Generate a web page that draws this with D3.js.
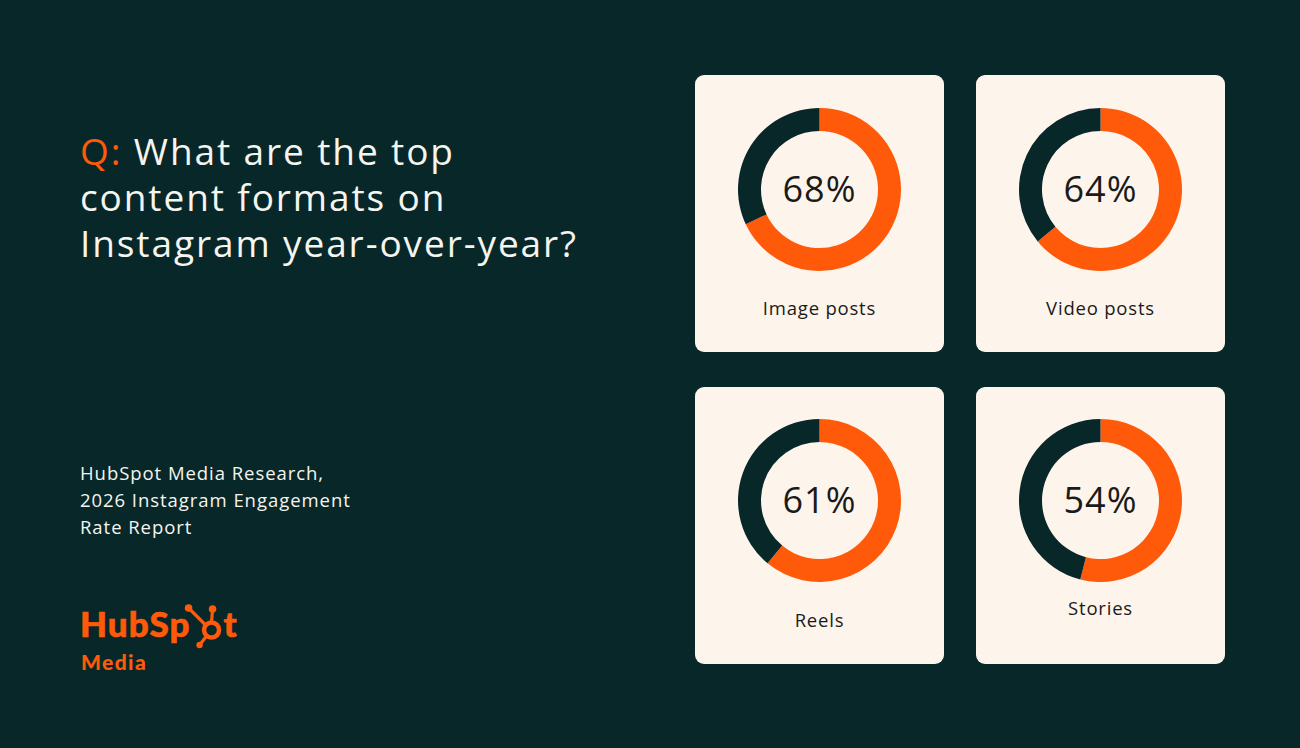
<!DOCTYPE html>
<html>
<head>
<meta charset="utf-8">
<script src="https://cdn.jsdelivr.net/npm/d3@7"></script>
<style>
  html, body { margin: 0; padding: 0; background: #072729; }
  svg { display: block; }
  text { font-family: "Open Sans", "Noto Sans", sans-serif; }
  text.logo { font-family: Lato, sans-serif; }
</style>
</head>
<body>
<svg id="chart" width="1300" height="748"></svg>
<script>
// ---- data ----
const categories = ["Image posts", "Video posts", "Reels", "Stories"];
const percentages = [68, 64, 61, 54];
const titleLines = ["What are the top", "content formats on", "Instagram year-over-year?"];
const sourceLines = ["HubSpot Media Research,", "2026 Instagram Engagement", "Rate Report"];

// ---- style ----
const BG = "#072729", ORANGE = "#ff5a0a", CARD = "#fdf5ec", INK = "#1a1a1a", WHITE = "#f6f4ee";

const svg = d3.select("#chart");
svg.append("rect").attr("width", 1300).attr("height", 748).attr("fill", BG);

// Title
const title = svg.append("text").attr("x", 80).attr("y", 165)
  .attr("font-size", 37).attr("fill", WHITE).attr("letter-spacing", 1.9);
titleLines.forEach((line, i) => {
  const t = title.append("tspan").attr("x", 80).attr("dy", i === 0 ? 0 : 46);
  if (i === 0) {
    t.append("tspan").attr("fill", ORANGE).text("Q:");
    t.append("tspan").text(" " + line);
  } else {
    t.text(line);
  }
});

// Source
svg.append("g").selectAll("text").data(sourceLines).join("text")
  .attr("x", 80).attr("y", (d, i) => 480 + i * 27)
  .attr("font-size", 18.5).attr("letter-spacing", 0.95).attr("fill", WHITE).text(d => d);

// Logo
const logo = svg.append("g").attr("fill", ORANGE);
const hs = logo.append("text").attr("class", "logo").attr("x", 80).attr("y", 637)
  .attr("font-size", 35).attr("font-weight", 900).attr("letter-spacing", 1.1)
  .attr("stroke", ORANGE).attr("stroke-width", 0.6)
  .text("HubSp");
const hsEnd = 80 + hs.node().getComputedTextLength();
const cx = hsEnd + 21, cy = 630;
const sp = logo.append("g");
sp.append("circle").attr("cx", cx).attr("cy", cy).attr("r", 7.5)
  .attr("fill", "none").attr("stroke", ORANGE).attr("stroke-width", 4.5);
sp.append("line").attr("x1", cx).attr("y1", cy - 8).attr("x2", cx + 1).attr("y2", cy - 21)
  .attr("stroke", ORANGE).attr("stroke-width", 3.2);
sp.append("circle").attr("cx", cx + 1).attr("cy", cy - 21).attr("r", 3.8);
sp.append("line").attr("x1", cx - 6).attr("y1", cy - 5).attr("x2", cx - 23).attr("y2", cy - 22)
  .attr("stroke", ORANGE).attr("stroke-width", 3.2);
sp.append("circle").attr("cx", cx - 23).attr("cy", cy - 22).attr("r", 3.8);
sp.append("line").attr("x1", cx - 5).attr("y1", cy + 6).attr("x2", cx - 12).attr("y2", cy + 15)
  .attr("stroke", ORANGE).attr("stroke-width", 3.2);
sp.append("circle").attr("cx", cx - 12).attr("cy", cy + 15).attr("r", 3.2);
logo.append("text").attr("class", "logo").attr("x", cx + 12).attr("y", 637)
  .attr("font-size", 35).attr("font-weight", 900)
  .attr("stroke", ORANGE).attr("stroke-width", 0.6).text("t");
logo.append("text").attr("class", "logo").attr("x", 81).attr("y", 670)
  .attr("font-size", 21).attr("font-weight", 900).attr("letter-spacing", 1.4).text("Media");

// Cards grid
const col = d3.scaleBand().domain([0, 1]).range([695, 1225]).paddingInner(32 / 281);
const row = d3.scaleBand().domain([0, 1]).range([75, 664]).paddingInner(35 / 312);
const labelDy = [233, 233, 233, 221];

const pie = d3.pie().sort(null).value(d => d);
const arc = d3.arc().innerRadius(58.5).outerRadius(81.5);

const cards = svg.append("g").selectAll("g").data(categories).join("g")
  .attr("transform", (d, i) => `translate(${col(i % 2)},${row(Math.floor(i / 2))})`);

cards.append("rect")
  .attr("width", col.bandwidth()).attr("height", row.bandwidth())
  .attr("rx", 9).attr("fill", CARD);

const donut = cards.append("g")
  .attr("transform", (d, i) => `translate(${col.bandwidth() / 2},${i < 2 ? 114.5 : 113.5})`);

donut.selectAll("path")
  .data((d, i) => pie([percentages[i], 100 - percentages[i]]))
  .join("path")
  .attr("d", arc)
  .attr("fill", (d, j) => j === 0 ? ORANGE : BG);

donut.append("text")
  .attr("text-anchor", "middle").attr("dy", "0.36em")
  .attr("font-size", 36).attr("letter-spacing", 1).attr("fill", INK)
  .text((d, i) => percentages[i] + "%");

cards.append("text")
  .attr("x", col.bandwidth() / 2).attr("y", (d, i) => labelDy[i] + 7)
  .attr("text-anchor", "middle").attr("font-size", 18.5).attr("letter-spacing", 0.8).attr("fill", INK)
  .text(d => d);
</script>
</body>
</html>
